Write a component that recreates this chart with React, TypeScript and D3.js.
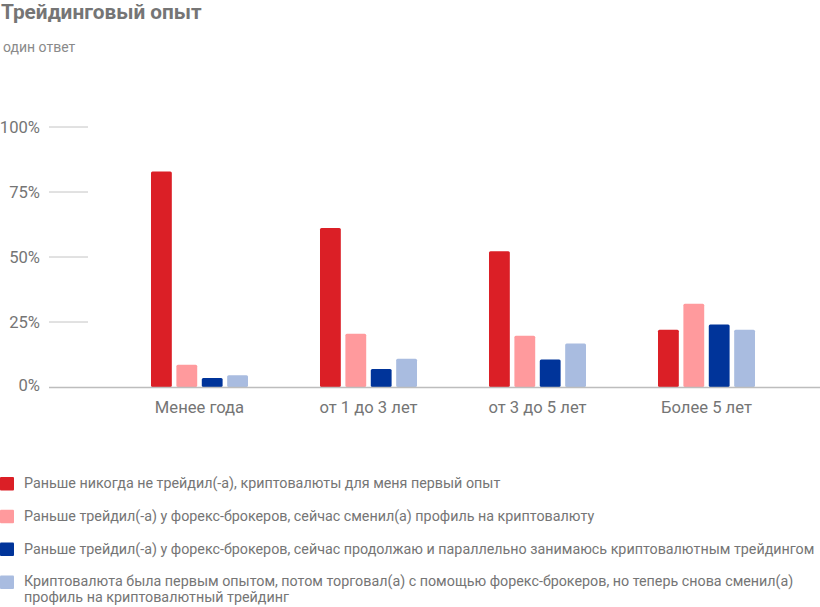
import { useMemo } from 'react'
import * as d3 from 'd3'

const categories = ['Менее года', 'от 1 до 3 лет', 'от 3 до 5 лет', 'Более 5 лет']

const seriesNames = [
  'Раньше никогда не трейдил(-а), криптовалюты для меня первый опыт',
  'Раньше трейдил(-а) у форекс-брокеров, сейчас сменил(а) профиль на криптовалюту',
  'Раньше трейдил(-а) у форекс-брокеров, сейчас продолжаю и параллельно занимаюсь криптовалютным трейдингом',
  'Криптовалюта была первым опытом, потом торговал(а) с помощью форекс-брокеров, но теперь снова сменил(а)|профиль на криптовалютный трейдинг',
]

const neverTraded = [82.9, 61.2, 52.2, 22.0]
const switchedFromForex = [8.6, 20.5, 19.7, 32.0]
const bothParallel = [3.5, 6.9, 10.6, 24.0]
const cryptoForexCrypto = [4.5, 10.9, 16.7, 22.0]

const yTicks = [0, 25, 50, 75, 100]

const colors = ['#db1f26', '#ff9a9d', '#00349a', '#a9bce0']

const W = 820
const H = 607
const font = 'Roboto, "Noto Sans", sans-serif'
const textColor = '#757575'

export default function App() {
  const series = [neverTraded, switchedFromForex, bothParallel, cryptoForexCrypto]

  const { x, xi, y } = useMemo(() => {
    const x = d3.scaleBand().domain(categories).range([115, 791]).paddingInner(0).paddingOuter(0)
    const xi = d3
      .scaleBand()
      .domain(seriesNames.map((_, i) => String(i)))
      .range([x.bandwidth() * 0.213, x.bandwidth() * 0.787])
      .paddingInner(0.18)
    const y = d3.scaleLinear().domain([0, 100]).range([387, 127])
    return { x, xi, y }
  }, [])

  return (
    <svg
      width={W}
      height={H}
      style={{ position: 'absolute', left: 0, top: 0, display: 'block', background: '#fff' }}
      fontFamily={font}
    >
      <text x={1} y={18.5} fontSize={20.8} fontWeight="bold" fill={textColor}>
        Трейдинговый опыт
      </text>
      <text x={3} y={52} fontSize={14} fill="#8a8a8a">
        один ответ
      </text>

      <g>
        {yTicks.map((t) => (
          <g key={t}>
            {t > 0 && (
              <line x1={49} x2={88} y1={y(t)} y2={y(t)} stroke="#c4c4c4" strokeWidth={1} />
            )}
            <text
              x={40}
              y={y(t) + (t === 0 ? 3.5 : 6)}
              fontSize={16.6}
              textAnchor="end"
              fill={textColor}
            >
              {t}%
            </text>
          </g>
        ))}
      </g>

      {categories.map((c, ci) => (
        <g key={c} transform={`translate(${x(c)},0)`}>
          {series.map((s, si) => (
            <rect
              key={si}
              x={xi(String(si))}
              y={y(s[ci])}
              width={xi.bandwidth()}
              height={y(0) - y(s[ci])}
              fill={colors[si]}
              rx={1.5}
            />
          ))}
          <text
            x={x.bandwidth() / 2}
            y={413}
            fontSize={16.6}
            textAnchor="middle"
            fill={textColor}
          >
            {c}
          </text>
        </g>
      ))}

      <line x1={49} x2={W} y1={y(0) + 0.5} y2={y(0) + 0.5} stroke="#bdbdbd" strokeWidth={1.5} />

      <g>
        {seriesNames.map((name, i) => {
          const rowY = 477 + i * 32.8
          const lines = name.split('|')
          return (
            <g key={i}>
              <rect x={0} y={rowY} width={14} height={13.5} fill={colors[i]} rx={1} />
              {lines.map((ln, li) => (
                <text key={li} x={24} y={rowY + 11 + li * 15.5} fontSize={14.3} fill={textColor}>
                  {ln}
                </text>
              ))}
            </g>
          )
        })}
      </g>
    </svg>
  )
}
